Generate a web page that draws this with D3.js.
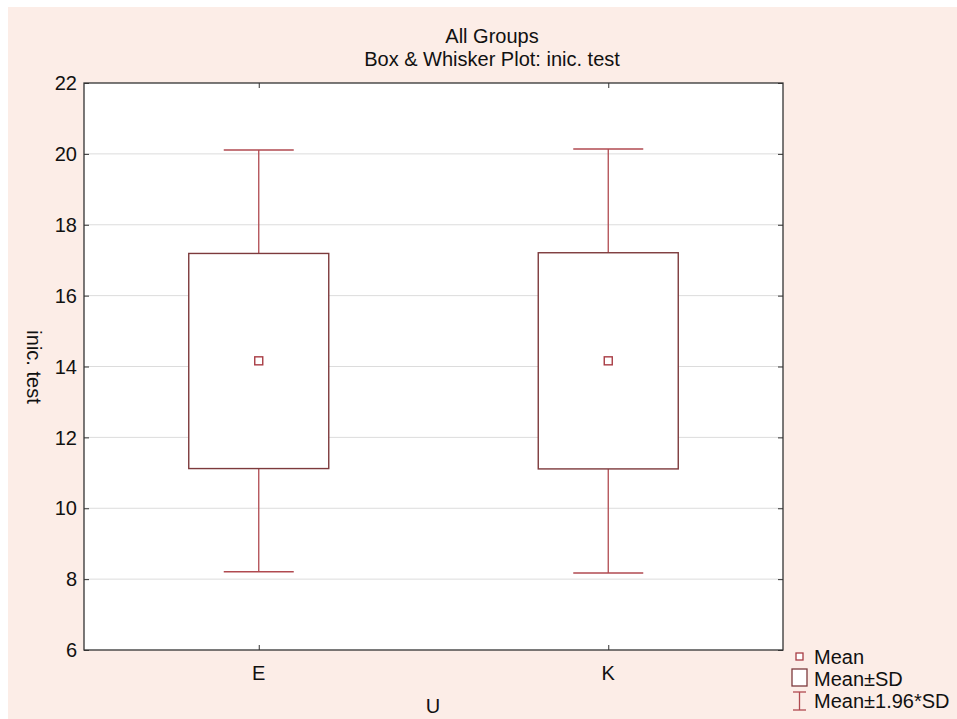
<!DOCTYPE html>
<html><head><meta charset="utf-8">
<script src="https://cdn.jsdelivr.net/npm/d3@7"></script>
<style>body{margin:0;background:#fff}svg{display:block}text{font-family:"Liberation Sans",Arial,sans-serif;fill:#111}</style>
</head><body><svg id="c" width="957" height="719"></svg>
<script>
const categories = ["E", "K"];
const means = [14.16, 14.16];
const sdLow = [11.12, 11.11];
const sdHigh = [17.19, 17.21];
const ciLow = [8.21, 8.17];
const ciHigh = [20.11, 20.14];
const yTicks = [6, 8, 10, 12, 14, 16, 18, 20, 22];
const legendLabels = ["Mean", "Mean±SD", "Mean±1.96*SD"];

const svg = d3.select("#c");
const W = 957, H = 719;
const m = {l: 84, r: 783, t: 83, b: 650};
svg.append("rect").attr("x", 8).attr("y", 7).attr("width", W - 8).attr("height", H - 7).attr("fill", "#fcede7");
svg.append("rect").attr("x", m.l).attr("y", m.t).attr("width", m.r - m.l).attr("height", m.b - m.t).attr("fill", "#fff");

const x = d3.scalePoint().domain(categories).range([m.l, m.r]).padding(0.5);
const y = d3.scaleLinear().domain([6, 22]).range([m.b, m.t]);

// grid
svg.append("g").selectAll("line").data(yTicks.filter(t => t > 6 && t < 22)).join("line")
  .attr("x1", m.l).attr("x2", m.r).attr("y1", d => y(d)).attr("y2", d => y(d))
  .attr("stroke", "#dcdcdc").attr("stroke-width", 1);

const boxC = "#7d3a3c", whC = "#b04a50", meanC = "#a83c44";
const g = svg.append("g");
categories.forEach((c, i) => {
  const cx = x(c);
  g.append("line").attr("x1", cx).attr("x2", cx).attr("y1", y(ciHigh[i])).attr("y2", y(sdHigh[i])).attr("stroke", whC).attr("stroke-width", 1.3);
  g.append("line").attr("x1", cx).attr("x2", cx).attr("y1", y(sdLow[i])).attr("y2", y(ciLow[i])).attr("stroke", whC).attr("stroke-width", 1.3);
  g.append("line").attr("x1", cx - 35).attr("x2", cx + 35).attr("y1", y(ciHigh[i])).attr("y2", y(ciHigh[i])).attr("stroke", whC).attr("stroke-width", 1.5);
  g.append("line").attr("x1", cx - 35).attr("x2", cx + 35).attr("y1", y(ciLow[i])).attr("y2", y(ciLow[i])).attr("stroke", whC).attr("stroke-width", 1.5);
  g.append("rect").attr("x", cx - 70).attr("width", 140).attr("y", y(sdHigh[i])).attr("height", y(sdLow[i]) - y(sdHigh[i]))
    .attr("fill", "#fff").attr("stroke", boxC).attr("stroke-width", 1.4);
  g.append("rect").attr("x", cx - 4).attr("y", y(means[i]) - 4).attr("width", 8).attr("height", 8)
    .attr("fill", "#fff").attr("stroke", meanC).attr("stroke-width", 1.4);
});

svg.append("rect").attr("x", m.l).attr("y", m.t).attr("width", m.r - m.l).attr("height", m.b - m.t)
  .attr("fill", "none").attr("stroke", "#333").attr("stroke-width", 1.3);

const yl = svg.append("g").attr("transform", `translate(${m.l},0)`)
  .call(d3.axisRight(y).tickValues(yTicks).tickSize(5).tickFormat(""));
const yr = svg.append("g").attr("transform", `translate(${m.r},0)`)
  .call(d3.axisLeft(y).tickValues(yTicks).tickSize(5).tickFormat(""));
const xb = svg.append("g").attr("transform", `translate(0,${m.b})`)
  .call(d3.axisTop(x).tickSize(5).tickFormat(""));
const xt = svg.append("g").attr("transform", `translate(0,${m.t})`)
  .call(d3.axisBottom(x).tickSize(5).tickFormat(""));
[yl, yr, xb, xt].forEach(a => { a.select(".domain").remove(); a.selectAll("line").attr("stroke", "#333"); });

svg.append("g").selectAll("text").data(yTicks).join("text")
  .attr("x", 77).attr("y", d => y(d)).attr("dy", "0.36em").attr("text-anchor", "end")
  .attr("font-size", 20).text(d => d);
svg.append("g").selectAll("text").data(categories).join("text")
  .attr("x", d => x(d)).attr("y", 680).attr("text-anchor", "middle").attr("font-size", 20).text(d => d);

svg.append("text").attr("x", 433).attr("y", 713).attr("text-anchor", "middle").attr("font-size", 20).text("U");
svg.append("text").attr("transform", "translate(27,367) rotate(90)").attr("text-anchor", "middle").attr("font-size", 20).text("inic. test");

svg.append("text").attr("x", 492).attr("y", 43).attr("text-anchor", "middle").attr("font-size", 20).text("All Groups");
svg.append("text").attr("x", 492).attr("y", 66).attr("text-anchor", "middle").attr("font-size", 20).text("Box & Whisker Plot: inic. test");

const lg = svg.append("g");
lg.append("rect").attr("x", 796).attr("y", 653).attr("width", 7).attr("height", 7).attr("fill", "#fff").attr("stroke", meanC).attr("stroke-width", 1.3);
lg.append("rect").attr("x", 792).attr("y", 669).attr("width", 15).attr("height", 17).attr("fill", "#fff").attr("stroke", boxC).attr("stroke-width", 1.3);
lg.append("line").attr("x1", 799.5).attr("x2", 799.5).attr("y1", 692).attr("y2", 710).attr("stroke", whC).attr("stroke-width", 1.3);
lg.append("line").attr("x1", 793).attr("x2", 806).attr("y1", 692).attr("y2", 692).attr("stroke", whC).attr("stroke-width", 1.3);
lg.append("line").attr("x1", 793).attr("x2", 806).attr("y1", 710).attr("y2", 710).attr("stroke", whC).attr("stroke-width", 1.3);
lg.selectAll("text.l").data(legendLabels).join("text").attr("class", "l")
  .attr("x", 814).attr("y", (d, i) => 664 + i * 22).attr("font-size", 20).text(d => d);
</script></body></html>
